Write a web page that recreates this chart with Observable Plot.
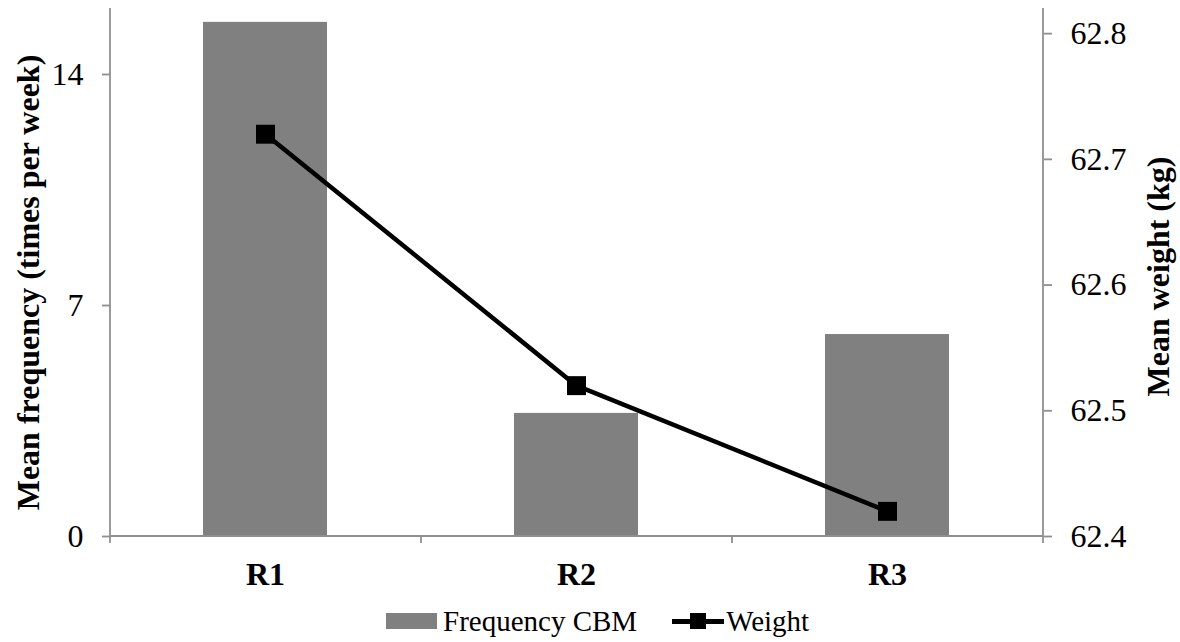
<!DOCTYPE html>
<html>
<head>
<meta charset="utf-8">
<script src="https://cdn.jsdelivr.net/npm/d3@7"></script>
<script src="https://cdn.jsdelivr.net/npm/@observablehq/plot@0.6"></script>
<style>
  html, body { margin: 0; padding: 0; background: #fff; }
  #chart { width: 1180px; height: 642px; position: relative; font-family: "Liberation Serif", "Times New Roman", Tinos, "DejaVu Serif", serif; }
  #chart svg text { font-family: "Liberation Serif", "Times New Roman", Tinos, "DejaVu Serif", serif; }
  #legend { position: absolute; left: 386px; top: 604px; height: 34px; display: flex; align-items: center; font-size: 29px; color: #000; }
  .swatch { width: 51px; height: 16px; background: #808080; margin-right: 6px; }
  .lineKey { position: relative; width: 52px; height: 16px; margin-left: 35px; margin-right: 2px; }
  .lineKey .seg { position: absolute; left: 0; right: 0; top: 6px; height: 4.5px; background: #000; }
  .lineKey .sq { position: absolute; left: 18px; top: 0; width: 16px; height: 16px; background: #000; }
</style>
</head>
<body>
<div id="chart"></div>
<script>
// Rounds of the study
const categories = ["R1", "R2", "R3"];
// Mean CBM frequency (times per week), left axis
const frequency = [15.58, 3.73, 6.12];
// Mean weight (kg), right axis
const weight = [62.72, 62.52, 62.42];

const freqTicks = [0, 7, 14];
const weightTicks = [62.4, 62.5, 62.6, 62.7, 62.8];

const freqDomain = [0, 16];
const weightDomain = [62.4, 62.82];

// Map the weight axis onto the frequency axis so both share one y scale
const toLeft = w => (w - weightDomain[0]) / (weightDomain[1] - weightDomain[0]) * (freqDomain[1] - freqDomain[0]) + freqDomain[0];
const fromLeft = v => (v - freqDomain[0]) / (freqDomain[1] - freqDomain[0]) * (weightDomain[1] - weightDomain[0]) + weightDomain[0];

const data = categories.map((c, i) => ({cat: c, freq: frequency[i], weight: weight[i]}));

const axisGray = "#8f8f8f";
const serif = "'Liberation Serif', 'Times New Roman', Tinos, 'DejaVu Serif', serif";

// Axis lines, baseline and category-boundary ticks in the classic spreadsheet style
function frameLines(index, scales, values, dimensions) {
  const {width, height, marginLeft, marginRight, marginTop, marginBottom} = dimensions;
  const x0 = marginLeft, x1 = width - marginRight;
  const yTop = marginTop, yBase = height - marginBottom;
  const g = d3.create("svg:g").attr("stroke", axisGray).attr("stroke-width", 1.8).attr("fill", "none");
  const n = categories.length;
  const step = (x1 - x0) / n;
  for (let i = 0; i <= n; i++) {
    const x = x0 + i * step;
    g.append("line").attr("x1", x).attr("x2", x).attr("y1", i === 0 || i === n ? yTop : yBase).attr("y2", yBase + 7);
  }
  g.append("line").attr("x1", x0).attr("x2", x1).attr("y1", yBase).attr("y2", yBase);
  return g.node();
}

const plot = Plot.plot({
  width: 1180,
  height: 595,
  marginTop: 8,
  marginBottom: 59,
  marginLeft: 110,
  marginRight: 137,
  style: {fontFamily: serif, fontSize: "32px", background: "#fff", overflow: "visible"},
  x: {domain: categories, paddingInner: 0.6, paddingOuter: 0.3, align: 0.5},
  y: {domain: freqDomain},
  marks: [
    Plot.barY(data, {x: "cat", y: "freq", fill: "#808080"}),
    frameLines,
    Plot.axisX({tickSize: 0, tickPadding: 26, fontWeight: "bold", fill: "#000", label: null}),
    Plot.axisY(freqTicks, {anchor: "left", tickSize: 8, tickPadding: 19, stroke: axisGray, strokeWidth: 1.8, fill: "#000", label: null}),
    Plot.axisY(weightTicks.map(toLeft), {anchor: "right", tickSize: 8, tickPadding: 19, stroke: axisGray, strokeWidth: 1.8, fill: "#000", label: null,
      tickFormat: d => fromLeft(d).toFixed(1)}),
    Plot.text(["Mean frequency (times per week)"], {frameAnchor: "left", textAnchor: "middle", rotate: -90, dx: -82, dy: 10, fontWeight: "bold", fontSize: 32, fill: "#000"}),
    Plot.text(["Mean weight (kg)"], {frameAnchor: "right", textAnchor: "middle", rotate: -90, dx: 115, dy: 4, fontWeight: "bold", fontSize: 32, fill: "#000"}),
    Plot.line(data, {x: "cat", y: d => toLeft(d.weight), stroke: "#000", strokeWidth: 4.5}),
    Plot.dot(data, {x: "cat", y: d => toLeft(d.weight), symbol: "square", r: 10.7, fill: "#000", stroke: "none"})
  ]
});

const chart = document.getElementById("chart");
chart.appendChild(plot);

const legend = document.createElement("div");
legend.id = "legend";
legend.innerHTML = '<div class="swatch"></div><span>Frequency CBM</span>' +
  '<div class="lineKey"><div class="seg"></div><div class="sq"></div></div><span>Weight</span>';
chart.appendChild(legend);
</script>
</body>
</html>
